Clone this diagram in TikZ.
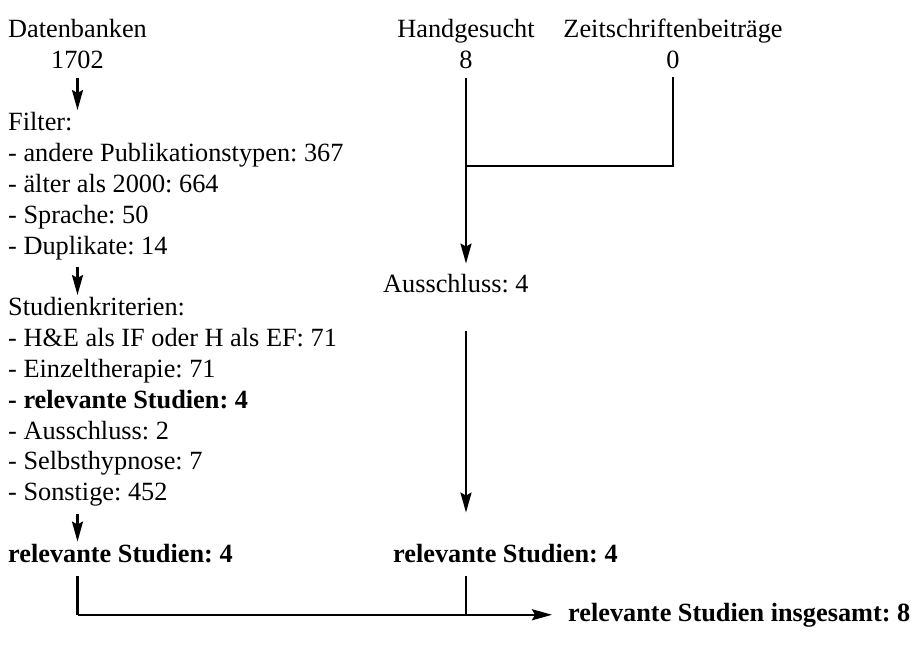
\documentclass[tikz,border=0pt]{standalone}
\usepackage{fontspec}
\setmainfont{Liberation Serif}
\frenchspacing
\usepackage{tikz}
\usetikzlibrary{arrows.meta, calc, positioning}

\begin{document}
\begin{tikzpicture}[x=1pt, y=1pt,
    txt/.style={inner sep=0pt, font=\fontsize{26.3}{30.9}\selectfont},
    fett/.style={txt, font=\fontsize{26.3}{30.9}\selectfont\bfseries},
    pfeil/.style={line width=2.4pt, -{Stealth[length=20pt, width=11pt, inset=3pt]}},
    linie/.style={line width=2.4pt}]
    \useasboundingbox (0,0) rectangle (922,-653);

    % Linke Spalte: Datenbanken
    \node[txt, align=center, anchor=north] (db) at (77.5,-19) {Datenbanken\\1702};
    \node[txt, align=left, anchor=north west] (filter) at (8,-112) {Filter:\\- andere Publikationstypen: 367\\- älter als 2000: 664\\- Sprache: 50\\- Duplikate: 14};
    \node[txt, align=left, anchor=north west] (krit) at (8,-297) {Studienkriterien:\\- H\&E als IF oder H als EF: 71\\- Einzeltherapie: 71\\\textbf{- relevante Studien: 4}\\- Ausschluss: 2\\- Selbsthypnose: 7\\- Sonstige: 452};
    \node[fett, anchor=base west] (relL) at (8,-562) {relevante Studien: 4};

    % Rechte Spalte: Handsuche und Zeitschriften
    \node[txt, align=center, anchor=north] (hand) at (466,-19) {Handgesucht\\8};
    \node[txt, align=center, anchor=north] (zeit) at (673,-19) {Zeitschriftenbeiträge\\0};
    \node[txt, anchor=base west] (aus) at (383,-292) {Ausschluss: 4};
    \node[fett, anchor=base west] (relR) at (393,-562) {relevante Studien: 4};
    \node[fett, anchor=base west] (gesamt) at (568,-621) {relevante Studien insgesamt: 8};

    % Pfeile links
    \draw[pfeil, shorten <=9pt, shorten >=2pt] (db.south) -- (db.south |- filter.north);
    \draw[pfeil, shorten <=7pt, shorten >=2pt] (db.south |- filter.south) -- (db.south |- krit.north);
    \draw[pfeil, shorten <=7pt, shorten >=2pt] (db.south |- krit.south) -- (db.south |- relL.north);

    % Zusammenfuehrung rechts
    \coordinate (knick) at ($(zeit.south)+(0,-97)$);
    \draw[linie, shorten <=8pt] (zeit.south) -- (knick) -- (hand.south |- knick);
    \draw[pfeil, shorten <=9pt, shorten >=10pt] (hand.south) -- (hand.south |- aus.north);
    \draw[pfeil, shorten <=38pt, shorten >=31pt] (hand.south |- aus.south) -- (hand.south |- relR.north);

    % Gesamt
    \coordinate (unten) at (db.south |- gesamt.west);
    \draw[linie, shorten <=13pt] (db.south |- relL.south) -- (unten);
    \draw[linie, shorten <=13pt] (hand.south |- relR.south) -- (hand.south |- unten);
    \draw[pfeil, shorten >=16pt] (unten) -- (gesamt.west);
\end{tikzpicture}
\end{document}
